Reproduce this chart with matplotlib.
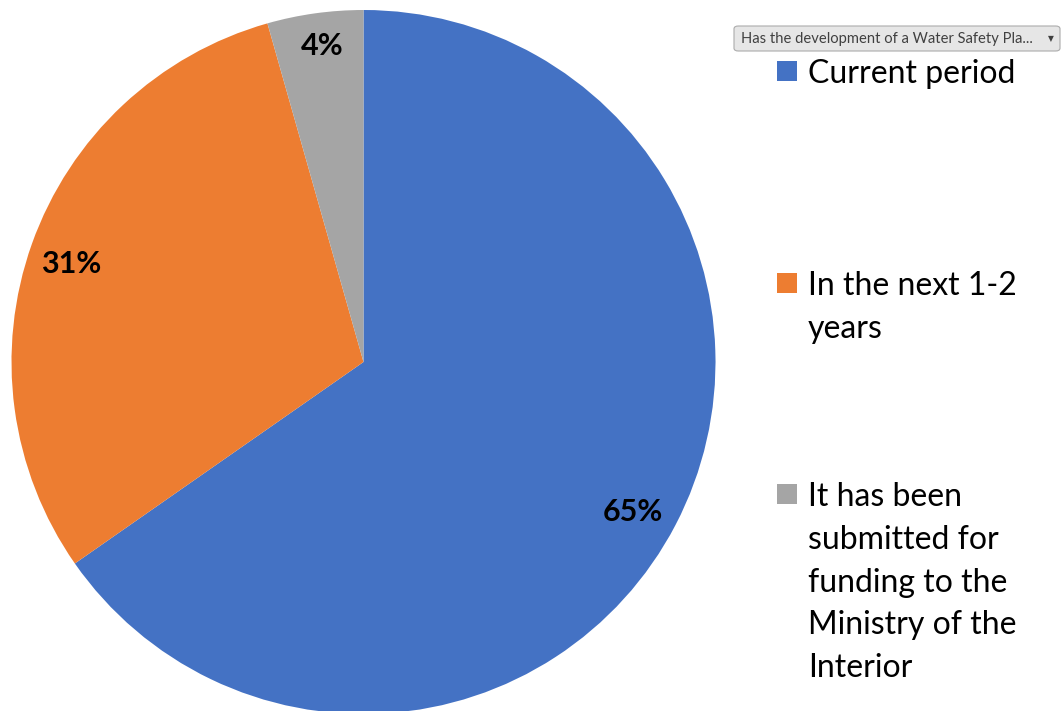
#!/usr/bin/env python3

import numpy as np
import matplotlib
matplotlib.use('Agg')
import matplotlib.pyplot as plt
from matplotlib.patches import FancyBboxPatch, Rectangle

plt.rcParams['font.family'] = ['Lato', 'DejaVu Sans']

categories = ['Current period',
              'In the next 1-2\nyears',
              'It has been\nsubmitted for\nfunding to the\nMinistry of the\nInterior']
shares = [65.3, 30.3, 4.4]
pct_labels = ['65%', '31%', '4%']
colors = ['#4472C4', '#ED7D31', '#A5A5A5']
filter_text = 'Has the development of a Water Safety Pla...'

W, H = 1062, 711
fig = plt.figure(figsize=(W / 100, H / 100), dpi=100)

# pie axes: centre (363.5, 362) px, radius 352 px
cx, cy, r = 363.5, 362, 352
ax = fig.add_axes([(cx - r) / W, (H - cy - r) / H, 2 * r / W, 2 * r / H])
wedges, _ = ax.pie(shares, colors=colors, startangle=90, counterclock=False,
                   wedgeprops=dict(linewidth=0))
ax.set_xlim(-1, 1)
ax.set_ylim(-1, 1)
ax.set_aspect('equal')
ax.axis('off')

# label radius (fraction of r) and small angle nudges, as placed by excel
label_r = [0.875, 0.875, 0.905]
label_nudge = [-1.6, 1.0, -0.4]
for w, lab, lr, nd in zip(wedges, pct_labels, label_r, label_nudge):
    mid = np.deg2rad((w.theta1 + w.theta2) / 2 + nd)
    ax.text(lr * np.cos(mid), lr * np.sin(mid), lab, ha='center', va='center',
            fontsize=22, fontweight='bold', color='black')

# filter button
def px(x, y):
    return x / W, 1 - y / H

bx0, by0 = px(734, 51)
bx1, by1 = px(1060, 26)
fig.patches.append(FancyBboxPatch((bx0, by0), bx1 - bx0, by1 - by0,
                                  boxstyle='round,pad=0,rounding_size=0.004',
                                  transform=fig.transFigure, facecolor='#E6E6E6',
                                  edgecolor='#ABABAB', linewidth=0.8))
fig.text(*px(741, 39), filter_text, ha='left', va='center', fontsize=10.6,
         color='#404040')
fig.text(*px(1051, 39), '\u25BC', ha='center', va='center', fontsize=5.5,
         color='#404040', family='DejaVu Sans')

# legend
first_baselines = [83, 295, 506]
line_step = 42.8
for cat, col, base in zip(categories, colors, first_baselines):
    sx, sy = px(777, base - 2)
    fig.patches.append(Rectangle((sx, sy), 20 / W, 20 / H,
                                 transform=fig.transFigure, facecolor=col,
                                 edgecolor='none'))
    for i, line in enumerate(cat.split('\n')):
        fig.text(*px(808, base + i * line_step), line, ha='left',
                 va='baseline', fontsize=23, color='black')

fig.savefig('out.png', dpi=100)
